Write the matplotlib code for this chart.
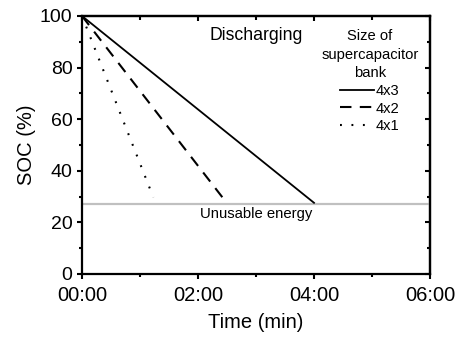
import matplotlib
matplotlib.use("Agg")
import matplotlib.pyplot as plt
import numpy as np

plt.rcParams['font.family'] = ['Liberation Sans', 'DejaVu Sans']

# data (time in minutes, SOC in %)
labels = ["4x3", "4x2", "4x1"]
t_4x3 = [0.0, 4.0]
soc_4x3 = [100.0, 27.6]
t_4x2 = [0.0, 2.48]
soc_4x2 = [100.0, 28.0]
t_4x1 = [0.0, 1.23]
soc_4x1 = [100.0, 29.7]
unusable_level = 27.1
xticks = [0, 2, 4, 6]
xticklabels = ["00:00", "02:00", "04:00", "06:00"]
yticks = [0, 20, 40, 60, 80, 100]
xminor = [1, 3, 5]
yminor = [10, 30, 50, 70, 90]

W, H = 461, 339
fig = plt.figure(figsize=(W/100, H/100), dpi=100)
ax = fig.add_axes([82/W, 1-274/H, (430-82)/W, (274-16)/H])

ax.axhline(unusable_level, color='#c0c0c0', lw=1.6, zorder=1)
ax.plot(t_4x3, soc_4x3, color='black', lw=1.3, ls='-', label=labels[0])
ax.plot(t_4x2, soc_4x2, color='black', lw=1.5, ls=(0, (5.5, 4)), label=labels[1])
ax.plot(t_4x1, soc_4x1, color='black', lw=1.5, ls=(0, (0.9, 4.6)), label=labels[2])

ax.set_xlim(0, 6)
ax.set_ylim(0, 100)
ax.set_xticks(xticks)
ax.set_xticklabels(xticklabels)
ax.set_yticks(yticks)
ax.set_xticks(xminor, minor=True)
ax.set_yticks(yminor, minor=True)
ax.tick_params(which='major', direction='out', length=3.8, width=1.5)
ax.tick_params(axis='x', which='major', pad=4.5, labelsize=14.5)
ax.tick_params(axis='y', which='major', pad=3, labelsize=14)
ax.tick_params(which='minor', direction='out', length=2.4, width=1.5)
for s in ax.spines.values():
    s.set_linewidth(1.6)

secx = ax.secondary_xaxis('top')
secx.set_xticks(xticks)
secx.set_xticks(xminor, minor=True)
secx.tick_params(which='both', direction='in', labeltop=False, width=1.5)
secx.tick_params(which='major', length=3.5)
secx.tick_params(which='minor', length=3.0)
secy = ax.secondary_yaxis('right')
secy.set_yticks(yticks)
secy.set_yticks(yminor, minor=True)
secy.tick_params(which='both', direction='in', labelright=False, width=1.5)
secy.tick_params(which='major', length=3.5)
secy.tick_params(which='minor', length=2.4)
for sa in (secx, secy):
    for s in sa.spines.values():
        s.set_linewidth(1.6)

ax.set_xlabel("Time (min)", fontsize=14.5, labelpad=6)
ax.set_ylabel("SOC (%)", fontsize=14.5, labelpad=3)

ax.text(2.19, 92.6, "Discharging", fontsize=12.7, ha='left', va='center')
ax.text(3.0, 23.4, "Unusable energy", fontsize=10.7, ha='center', va='center')

leg = ax.legend(loc='upper center', bbox_to_anchor=(370/W, 1-29/H), bbox_transform=fig.transFigure,
                frameon=False, title="Size of\nsupercapacitor\nbank", fontsize=10.6,
                title_fontsize=10.6, handlelength=2.25, handletextpad=0.15, labelspacing=0.25,
                borderaxespad=0, borderpad=0)
leg._legend_box.align = "center"
leg.get_title().set_multialignment('center')
leg.get_title().set_linespacing(1.42)

fig.savefig("out.png", dpi=100)
